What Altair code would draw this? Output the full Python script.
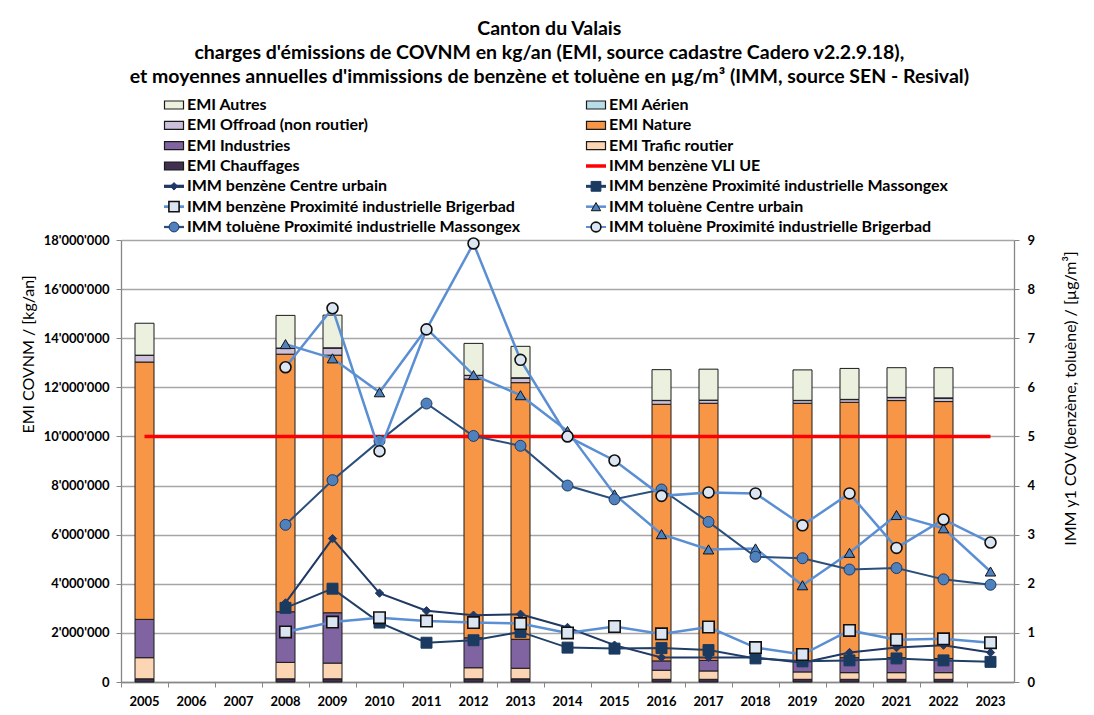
import altair as alt
import pandas as pd

FONT = "Lato"

# ---------------- data ----------------
years = list(range(2005, 2024))
bar_years = [2005, 2008, 2009, 2012, 2013, 2016, 2017, 2019, 2020, 2021, 2022]

# EMI values in millions of kg/an
emi_chauffages = [0.13, 0.13, 0.13, 0.13, 0.13, 0.11, 0.11, 0.11, 0.11, 0.11, 0.11]
emi_trafic     = [0.86, 0.67, 0.64, 0.45, 0.43, 0.37, 0.34, 0.30, 0.27, 0.27, 0.27]
emi_industries = [1.56, 2.06, 2.05, 1.22, 1.18, 0.38, 0.43, 0.45, 0.61, 0.61, 0.58]
emi_nature     = [10.48, 10.49, 10.49, 10.54, 10.45, 10.45, 10.47, 10.49, 10.40, 10.47, 10.46]
emi_offroad    = [0.27, 0.24, 0.29, 0.14, 0.19, 0.15, 0.12, 0.11, 0.11, 0.12, 0.14]
emi_aerien     = [0.01, 0.01, 0.01, 0.01, 0.01, 0.01, 0.01, 0.01, 0.01, 0.01, 0.01]
emi_autres     = [1.30, 1.33, 1.33, 1.30, 1.28, 1.25, 1.26, 1.24, 1.26, 1.21, 1.23]

line_years = list(range(2008, 2024))
ben_centre    = [1.61, 2.92, 1.81, 1.45, 1.36, 1.38, 1.11, 0.75, 0.50, 0.50, 0.50, 0.39, 0.60, 0.70, 0.75, 0.60]
ben_massongex = [1.51, 1.90, 1.21, 0.80, 0.85, 1.02, 0.70, 0.68, 0.69, 0.65, 0.48, 0.42, 0.44, 0.48, 0.44, 0.41]
ben_brigerbad = [1.02, 1.22, 1.31, 1.24, 1.21, 1.19, 1.00, 1.13, 0.98, 1.12, 0.70, 0.56, 1.05, 0.86, 0.88, 0.80]
tol_centre    = [6.88, 6.59, 5.90, 7.20, 6.25, 5.84, 5.11, 3.82, 3.01, 2.70, 2.72, 1.97, 2.63, 3.40, 3.13, 2.25]
tol_massongex = [3.20, 4.11, 4.91, 5.67, 5.01, 4.81, 4.00, 3.72, 3.92, 3.26, 2.55, 2.52, 2.29, 2.32, 2.09, 1.98]
tol_brigerbad = [6.41, 7.61, 4.70, 7.18, 8.93, 6.56, 5.00, 4.51, 3.79, 3.86, 3.84, 3.19, 3.84, 2.73, 3.31, 2.84]
vli_value = 5

# ---------------- styles ----------------
emi_names = ["EMI Chauffages", "EMI Trafic routier", "EMI Industries", "EMI Nature",
             "EMI Offroad (non routier)", "EMI Aérien", "EMI Autres"]
emi_colors = ["#403151", "#FCD5B5", "#8064A2", "#F79646", "#CCC0DA", "#B7DEE8", "#EBF1DE"]
emi_values = [emi_chauffages, emi_trafic, emi_industries, emi_nature, emi_offroad, emi_aerien, emi_autres]

imm_names = ["IMM benzène Centre urbain", "IMM benzène Proximité industrielle Massongex",
             "IMM benzène Proximité industrielle Brigerbad", "IMM toluène Centre urbain",
             "IMM toluène Proximité industrielle Massongex", "IMM toluène Proximité industrielle Brigerbad"]
imm_values = [ben_centre, ben_massongex, ben_brigerbad, tol_centre, tol_massongex, tol_brigerbad]
imm_line_color = ["#1F3864", "#1F3F66", "#5B8FD3", "#5B8FD3", "#2A4F7C", "#5B8FD3"]
imm_line_width = [2, 2, 2.5, 2.5, 2, 2.5]
imm_shape = ["diamond", "square", "square", "triangle-up", "circle", "circle"]
imm_fill = ["#1F3864", "#1B3A60", "#DCE6F2", "#4F81BD", "#4F81BD", "#DCE6F2"]
imm_stroke = ["#1F3864", "#1B3A60", "#111111", "#111111", "#1F3864", "#111111"]
imm_size = [70, 120, 130, 110, 120, 120]

vli_name = "IMM benzène VLI UE"
vli_color = "#FF0000"

# ---------------- tables ----------------
emi_rows = []
for k, (name, vals) in enumerate(zip(emi_names, emi_values)):
    for yr, v in zip(bar_years, vals):
        emi_rows.append({"year": yr, "cat": name, "order": k, "kg": v * 1e6})
emi_df = pd.DataFrame(emi_rows)

vli_df = pd.DataFrame({"year": years, "val": [vli_value] * len(years)})

GRID = "#A6A6A6"
AX = "#868686"

x_enc = alt.X("year:O",
              scale=alt.Scale(domain=years, paddingInner=0, paddingOuter=0),
              axis=alt.Axis(title=None, labelAngle=0, bandPosition=0, tickSize=5,
                            labelFont=FONT, labelFontSize=13, labelFontWeight="bold",
                            labelColor="#000000", labelPadding=8,
                            domainColor=AX, tickColor=AX, domainWidth=1.3))

left_axis = alt.Axis(title="EMI COVNM / [kg/an]", values=[i * 2e6 for i in range(10)],
                     labelExpr="replace(replace(format(datum.value, ','), ',', \"'\"), ',', \"'\")",
                     grid=True, gridColor=GRID, gridWidth=1.3,
                     domainColor=AX, tickColor=AX, tickSize=5, domainWidth=1.3,
                     labelFont=FONT, labelFontSize=13, labelFontWeight="bold", labelColor="#000000",
                     labelPadding=7, titleFont=FONT, titleFontSize=16, titleFontWeight="normal",
                     titleColor="#000000", titlePadding=7, titleY=114)

right_axis = alt.Axis(title="IMM y1 COV (benzène, toluène) / [µg/m³]", orient="right",
                      values=list(range(10)), grid=False,
                      domainColor=AX, tickColor=AX, tickSize=5, domainWidth=1.3,
                      labelFont=FONT, labelFontSize=13, labelFontWeight="bold", labelColor="#000000",
                      labelPadding=8, titleFont=FONT, titleFontSize=16, titleFontWeight="normal",
                      titleColor="#000000", titlePadding=44, titleAngle=270, titleY=158)

y_right = alt.Y("val:Q", scale=alt.Scale(domain=[0, 9]), axis=right_axis)

bars = alt.Chart(emi_df).mark_bar(width=19, stroke="#1A1A1A", strokeWidth=1).encode(
    x=x_enc,
    y=alt.Y("kg:Q", stack="zero", scale=alt.Scale(domain=[0, 18e6]), axis=left_axis),
    color=alt.Color("cat:N", scale=alt.Scale(domain=emi_names, range=emi_colors), legend=None),
    order=alt.Order("order:Q", sort="ascending"),
)

vli = alt.Chart(vli_df).mark_line(color=vli_color, strokeWidth=3.5).encode(x=x_enc, y=y_right)

right_layers = [vli]
for i, name in enumerate(imm_names):
    df = pd.DataFrame({"year": line_years, "val": imm_values[i]})
    ln = alt.Chart(df).mark_line(color=imm_line_color[i], strokeWidth=imm_line_width[i]).encode(
        x=x_enc, y=y_right)
    pt = alt.Chart(df).mark_point(shape=imm_shape[i], filled=True, fill=imm_fill[i],
                                  stroke=imm_stroke[i], strokeWidth=1.6 if imm_fill[i] == "#DCE6F2" else 1,
                                  size=imm_size[i], opacity=1).encode(x=x_enc, y=y_right)
    right_layers += [ln, pt]

right = alt.layer(*right_layers)
main = alt.layer(bars, right).resolve_scale(y="independent").properties(width=893, height=442)

# ---------------- legend panel ----------------
leg_order = ["EMI Autres", "EMI Aérien", "EMI Offroad (non routier)", "EMI Nature",
             "EMI Industries", "EMI Trafic routier", "EMI Chauffages", vli_name,
             imm_names[0], imm_names[1], imm_names[2], imm_names[3], imm_names[4], imm_names[5]]
leg_df = pd.DataFrame({"name": leg_order,
                       "row": [i // 2 for i in range(len(leg_order))],
                       "col": [i % 2 for i in range(len(leg_order))]})
leg_df["kind"] = ["emi" if n.startswith("EMI") else ("vli" if n == vli_name else "imm") for n in leg_order]

lx = alt.X("col:Q", scale=alt.Scale(domain=[0, 1], range=[53, 475]), axis=None)
ly = alt.Y("row:Q", scale=alt.Scale(domain=[0, 6], range=[10, 132]), axis=None)

leg_base = alt.Chart(leg_df)
leg_rect = leg_base.transform_filter("datum.kind == 'emi'").mark_point(
    shape="M-1,-0.42H1V0.42H-1Z", filled=True, size=361, stroke="#1A1A1A", strokeWidth=1.2, opacity=1
).encode(x=lx, y=ly, fill=alt.Fill("name:N", scale=alt.Scale(domain=emi_names, range=emi_colors), legend=None))

line_names = [vli_name] + imm_names
line_cols = [vli_color] + imm_line_color
line_w = [3.5] + imm_line_width
leg_line = leg_base.transform_filter("datum.kind != 'emi'").mark_point(
    shape="M-1,0H1", filled=False, size=400, opacity=1
).encode(x=lx, y=ly,
         stroke=alt.Stroke("name:N", scale=alt.Scale(domain=line_names, range=line_cols), legend=None),
         strokeWidth=alt.StrokeWidth("name:N", scale=alt.Scale(domain=line_names, range=line_w), legend=None))

leg_marks = []
for i, name in enumerate(imm_names):
    leg_marks.append(
        leg_base.transform_filter(alt.datum.name == name).mark_point(
            shape=imm_shape[i], filled=True, fill=imm_fill[i], stroke=imm_stroke[i],
            strokeWidth=1.6 if imm_fill[i] == "#DCE6F2" else 1, size=imm_size[i] * 0.8, opacity=1
        ).encode(x=lx, y=ly))

leg_text = leg_base.mark_text(align="left", baseline="middle", dx=13, font=FONT, fontSize=16,
                              fontWeight="bold", color="#000000").encode(x=lx, y=ly, text="name:N")

legend = alt.layer(leg_rect, leg_line, *leg_marks, leg_text).properties(width=893, height=140)

chart = alt.vconcat(legend, main, spacing=5, bounds="flush").properties(
    title=alt.TitleParams(
        text=["Canton du Valais",
              "charges d'émissions de COVNM en kg/an (EMI, source cadastre Cadero v2.2.9.18),",
              "et moyennes annuelles d'immissions de benzène et toluène en µg/m³ (IMM, source SEN - Resival)"],
        font=FONT, fontSize=19.5, fontWeight="bold", color="#000000", anchor="middle",
        frame="bounds", lineHeight=24, offset=8),
    padding={"left": 12, "top": 10, "right": 5, "bottom": 5},
    background="#FFFFFF",
).configure_view(stroke=None)

chart.save("out.html", embed_options={"renderer": "svg", "actions": False})
